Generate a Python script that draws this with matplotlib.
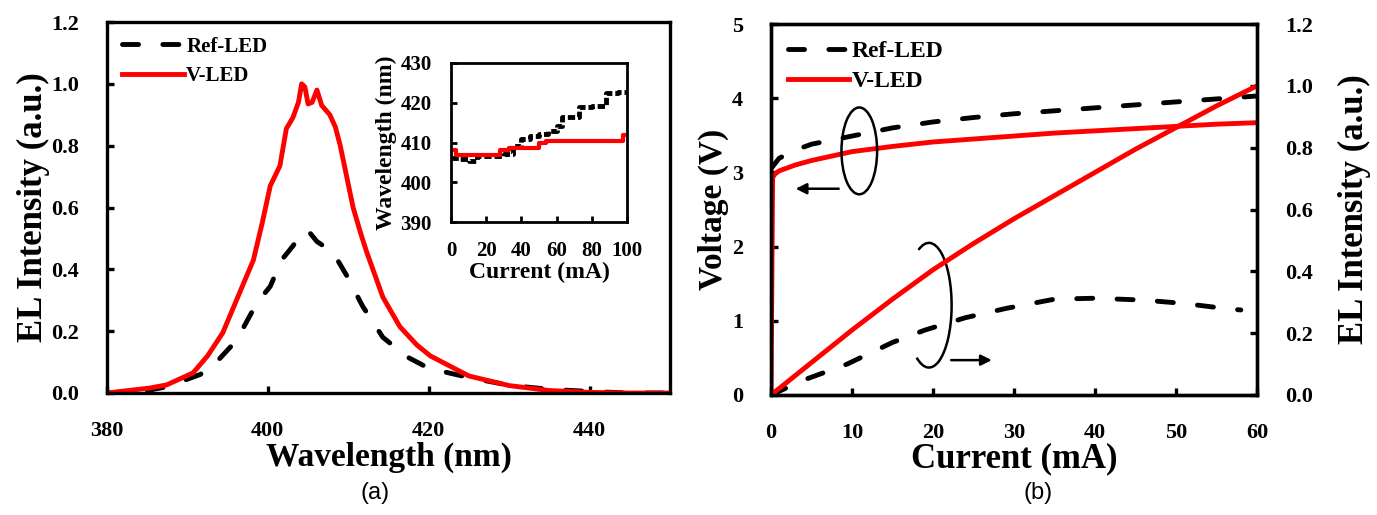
import numpy as np
import matplotlib
matplotlib.use("Agg")
import matplotlib.pyplot as plt
from matplotlib.patches import Ellipse, Arc, FancyArrowPatch

plt.rcParams['font.family'] = ['Liberation Serif', 'DejaVu Serif']
plt.rcParams['font.weight'] = 'bold'
plt.rcParams['axes.labelweight'] = 'bold'

# ---- (a) EL spectra ----
ref_wl = [380, 385, 387.4, 391.6, 393.6, 396.1, 398.6, 400.3, 401.7, 403.1, 404.2, 405.0,
          406.1, 408.1, 409.8, 411.8, 414.3, 417.3, 420, 425, 430, 435, 440, 445, 450]
ref_el = [0, 0.008, 0.02, 0.06, 0.10, 0.17, 0.29, 0.345, 0.43, 0.475, 0.515, 0.525,
          0.49, 0.455, 0.38, 0.28, 0.18, 0.117, 0.08, 0.05, 0.025, 0.012, 0.005, 0.0, 0]
vled_wl = [380, 385.3, 387.4, 390.7, 392.5, 394.4, 396.5, 398.2, 399.3, 400.3, 401.5, 402.3,
           403.1, 403.8, 404.2, 404.6, 405.0, 405.5, 406.1, 406.7, 407.7, 408.4, 409.0,
           409.8, 410.6, 411.5, 412.3, 414.3, 416.4, 418.5, 420.2, 425, 430, 435, 440, 445, 450]
vled_el = [0, 0.016, 0.026, 0.065, 0.12, 0.195, 0.325, 0.43, 0.55, 0.67, 0.735, 0.855,
           0.89, 0.94, 1.0, 0.99, 0.935, 0.94, 0.98, 0.93, 0.90, 0.86, 0.80,
           0.70, 0.60, 0.52, 0.455, 0.31, 0.215, 0.156, 0.12, 0.055, 0.024, 0.008, 0.002, 0.0, 0]

# inset: peak wavelength vs current
ref_in_i = [0, 5, 10, 15, 20, 25, 30, 35, 40, 45, 50, 55, 60, 63, 70, 73, 80, 88, 95, 100]
ref_in_w = [406.2, 405.8, 405.4, 406.5, 406.6, 406.7, 407.2, 409, 411, 411.6, 412.2, 413,
            414.2, 416.3, 416.4, 418.9, 419.2, 422.4, 422.7, 423]
vled_in_i = [0, 3, 28, 33, 50, 54, 98, 100]
vled_in_w = [408, 406.8, 408, 408.7, 409.8, 410.5, 412, 412]

# ---- (b) I-V and L-I ----
ref_v_i = [0, 1, 3, 5, 10, 15, 20, 25, 30, 35, 40, 45, 50, 55, 60]
ref_v = [3.05, 3.19, 3.3, 3.38, 3.49, 3.6, 3.68, 3.74, 3.79, 3.83, 3.87, 3.91, 3.95, 3.99, 4.03]
vled_v_i = [0, 0.2, 0.5, 1, 3, 5, 10, 15, 20, 25, 30, 35, 40, 45, 50, 55, 60]
vled_v = [0, 2.93, 2.98, 3.02, 3.1, 3.16, 3.28, 3.35, 3.41, 3.45, 3.49, 3.53, 3.56, 3.59,
          3.62, 3.65, 3.67]
ref_l_i = [0, 4, 9.4, 15, 19, 24, 29, 35, 40, 46, 51, 56, 58]
ref_l = [0, 0.048, 0.10, 0.17, 0.21, 0.25, 0.28, 0.31, 0.313, 0.307, 0.296, 0.28, 0.275]
vled_l_i = [0, 5, 10, 15, 20, 25, 30, 35, 40, 45, 50, 55, 60]
vled_l = [0, 0.105, 0.21, 0.31, 0.405, 0.49, 0.57, 0.645, 0.72, 0.795, 0.865, 0.935, 1.0]

W, H = 1377, 515
fig = plt.figure(figsize=(W / 100, H / 100), dpi=100)

def box(x0, y0, x1, y1):
    return [x0 / W, 1 - y1 / H, (x1 - x0) / W, (y1 - y0) / H]

def style(ax, lw=2.4):
    for s in ax.spines.values():
        s.set_linewidth(lw)
    ax.tick_params(direction='in', width=lw, length=5)

red = '#ff0000'
dash = (3.3, 5.0)

ax1 = fig.add_axes(box(107, 22, 670, 393))
ax1.plot(ref_wl, ref_el, color='black', lw=3.5, dashes=dash, dash_capstyle='round', label='Ref-LED')
ax1.plot(vled_wl, vled_el, color=red, lw=3.5, label='V-LED')
ax1.set_xlim(380, 450)
ax1.set_ylim(0, 1.2)
ax1.set_xticks([380, 400, 420, 440])
ax1.set_yticks(np.arange(0, 1.21, 0.2))
ax1.yaxis.set_major_formatter(matplotlib.ticker.FormatStrFormatter('%.1f'))
style(ax1)
ax1.tick_params(axis='both', labelsize=16, pad=20)
ax1.set_xlabel('Wavelength (nm)', fontsize=24, labelpad=1)
ax1.set_ylabel('EL Intensity (a.u.)', fontsize=25, labelpad=1)
ax1.legend(loc='upper left', bbox_to_anchor=(0.0, 1.0), frameon=False, fontsize=15,
           handlelength=3.0, handletextpad=0.1, borderaxespad=0.3, labelspacing=0.45)

axi = fig.add_axes(box(451, 63, 627, 222))
axi.plot(ref_in_i, ref_in_w, color='black', lw=3.5, dashes=(1.5, 0.6), drawstyle='steps-post')
axi.plot(vled_in_i, vled_in_w, color=red, lw=3.0, drawstyle='steps-post')
axi.set_xlim(0, 100)
axi.set_ylim(390, 430)
axi.set_xticks([0, 20, 40, 60, 80, 100])
axi.set_yticks([390, 400, 410, 420, 430])
style(axi, 2.0)
axi.tick_params(axis='both', labelsize=15, pad=14, length=4)
axi.set_xlabel('Current (mA)', fontsize=17, labelpad=0)
axi.set_ylabel('Wavelength (nm)', fontsize=17, labelpad=2)

ax2 = fig.add_axes(box(771, 24, 1257, 395))
ax2.plot(ref_v_i, ref_v, color='black', lw=3.5, dashes=dash, dash_capstyle='round', label='Ref-LED')
ax2.plot(vled_v_i, vled_v, color=red, lw=3.5, label='V-LED')
ax2.set_xlim(0, 60)
ax2.set_ylim(0, 5)
ax2.set_xticks(range(0, 61, 10))
ax2.set_yticks(range(0, 6))
style(ax2)
ax2.tick_params(axis='both', labelsize=16, pad=20)
ax2.set_xlabel('Current (mA)', fontsize=25, labelpad=0)
ax2.set_ylabel('Voltage (V)', fontsize=24, labelpad=2)
ax2.legend(loc='upper left', bbox_to_anchor=(0.0, 1.0), frameon=False, fontsize=17,
           handlelength=2.6, handletextpad=0.1, borderaxespad=0.3, labelspacing=0.35)

ax3 = ax2.twinx()
ax3.plot(ref_l_i, ref_l, color='black', lw=3.5, dashes=dash, dash_capstyle='round')
ax3.plot(vled_l_i, vled_l, color=red, lw=3.5)
ax3.set_ylim(0, 1.2)
ax3.set_yticks(np.arange(0, 1.21, 0.2))
ax3.yaxis.set_major_formatter(matplotlib.ticker.FormatStrFormatter('%.1f'))
style(ax3)
ax3.tick_params(axis='y', labelsize=16, pad=20)
ax3.set_ylabel('EL Intensity (a.u.)', fontsize=25, labelpad=18)

# ellipses and arrows
ax2.add_patch(Ellipse((10.9, 3.29), 4.4, 1.17, fill=False, color='black', lw=1.8, zorder=5))
ax2.add_patch(Arc((19.5, 1.21), 5.6, 1.68, theta1=-155, theta2=150, color='black', lw=1.8, zorder=5))
ax2.add_patch(FancyArrowPatch((8.7, 2.78), (2.7, 2.78), arrowstyle='-|>', mutation_scale=16,
                              color='black', lw=1.8, zorder=5))
ax2.add_patch(FancyArrowPatch((21.9, 0.47), (27.6, 0.47), arrowstyle='-|>', mutation_scale=16,
                              color='black', lw=1.8, zorder=5))

fig.text(375 / W, 1 - 493 / H, '(a)', fontsize=17, family='Liberation Sans', weight='normal',
         ha='center', va='center')
fig.text(1038 / W, 1 - 493 / H, '(b)', fontsize=17, family='Liberation Sans', weight='normal',
         ha='center', va='center')

fig.savefig('out.png', dpi=100)
